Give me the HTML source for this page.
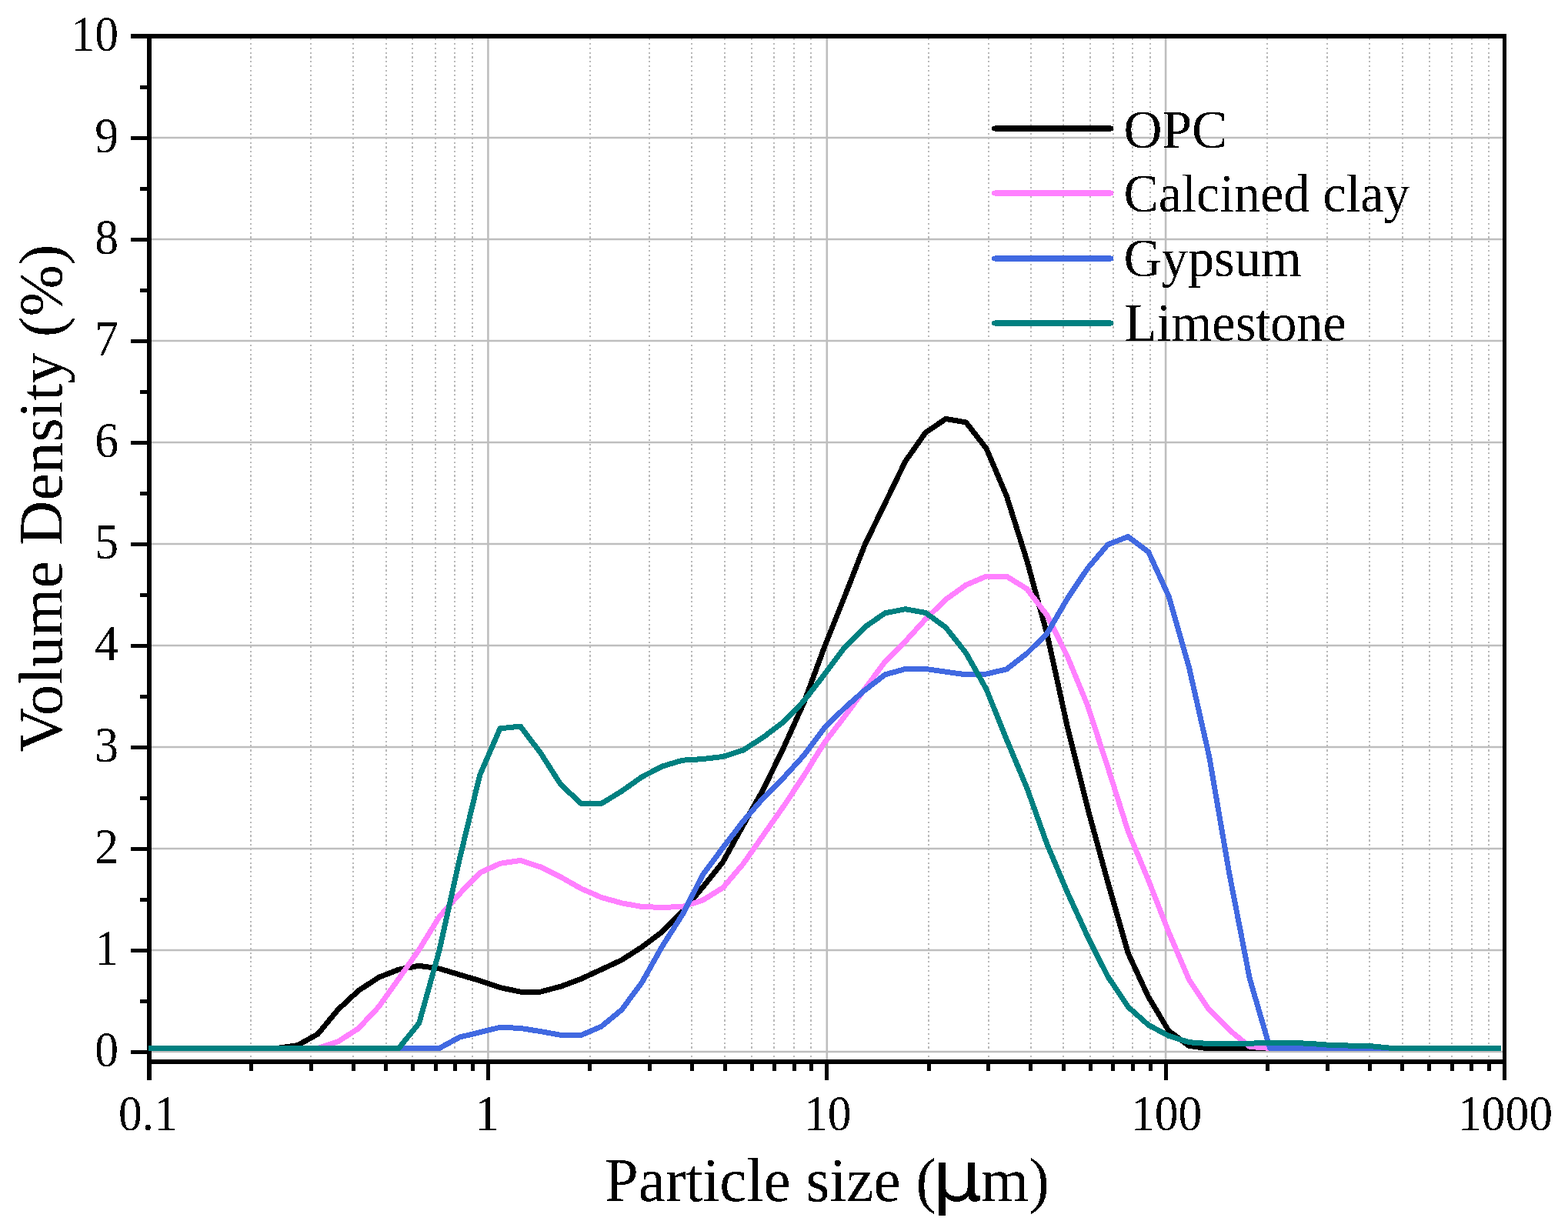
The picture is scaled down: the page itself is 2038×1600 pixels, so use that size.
<!DOCTYPE html>
<html><head><meta charset="utf-8"><style>
html,body{margin:0;padding:0;background:#fff;}
svg{display:block;}
line,rect{shape-rendering:crispEdges;}
text{font-family:"Liberation Serif","Times New Roman",serif;fill:#000;}
.Mg{stroke:#bebebe;stroke-width:2.6;shape-rendering:geometricPrecision;}
.mg{stroke:#b8b8b8;stroke-width:2;stroke-dasharray:2.2 3.65;}
.tk line{stroke:#000;stroke-width:5;}
.tk line.mt{stroke-width:5;}
.ser{fill:none;stroke-width:7;stroke-linejoin:round;stroke-linecap:butt;shape-rendering:crispEdges;}
.leg{stroke-width:7;stroke-linecap:round;shape-rendering:geometricPrecision;}
</style></head><body>
<svg width="2038" height="1600" viewBox="0 0 2038 1600">
<defs><filter id="bi" x="0" y="0" width="2038" height="1600" filterUnits="userSpaceOnUse"><feComponentTransfer><feFuncA type="discrete" tableValues="0 1"/></feComponentTransfer></filter></defs>
<rect width="2038" height="1600" fill="#fff"/>
<g><line x1="326" y1="50.0" x2="326" y2="1377.0" class="mg"/>
<line x1="404" y1="50.0" x2="404" y2="1377.0" class="mg"/>
<line x1="459" y1="50.0" x2="459" y2="1377.0" class="mg"/>
<line x1="502" y1="50.0" x2="502" y2="1377.0" class="mg"/>
<line x1="536" y1="50.0" x2="536" y2="1377.0" class="mg"/>
<line x1="566" y1="50.0" x2="566" y2="1377.0" class="mg"/>
<line x1="591" y1="50.0" x2="591" y2="1377.0" class="mg"/>
<line x1="614" y1="50.0" x2="614" y2="1377.0" class="mg"/>
<line x1="767" y1="50.0" x2="767" y2="1377.0" class="mg"/>
<line x1="844" y1="50.0" x2="844" y2="1377.0" class="mg"/>
<line x1="899" y1="50.0" x2="899" y2="1377.0" class="mg"/>
<line x1="942" y1="50.0" x2="942" y2="1377.0" class="mg"/>
<line x1="977" y1="50.0" x2="977" y2="1377.0" class="mg"/>
<line x1="1006" y1="50.0" x2="1006" y2="1377.0" class="mg"/>
<line x1="1032" y1="50.0" x2="1032" y2="1377.0" class="mg"/>
<line x1="1054" y1="50.0" x2="1054" y2="1377.0" class="mg"/>
<line x1="1207" y1="50.0" x2="1207" y2="1377.0" class="mg"/>
<line x1="1285" y1="50.0" x2="1285" y2="1377.0" class="mg"/>
<line x1="1340" y1="50.0" x2="1340" y2="1377.0" class="mg"/>
<line x1="1382" y1="50.0" x2="1382" y2="1377.0" class="mg"/>
<line x1="1417" y1="50.0" x2="1417" y2="1377.0" class="mg"/>
<line x1="1447" y1="50.0" x2="1447" y2="1377.0" class="mg"/>
<line x1="1472" y1="50.0" x2="1472" y2="1377.0" class="mg"/>
<line x1="1495" y1="50.0" x2="1495" y2="1377.0" class="mg"/>
<line x1="1647" y1="50.0" x2="1647" y2="1377.0" class="mg"/>
<line x1="1725" y1="50.0" x2="1725" y2="1377.0" class="mg"/>
<line x1="1780" y1="50.0" x2="1780" y2="1377.0" class="mg"/>
<line x1="1823" y1="50.0" x2="1823" y2="1377.0" class="mg"/>
<line x1="1858" y1="50.0" x2="1858" y2="1377.0" class="mg"/>
<line x1="1887" y1="50.0" x2="1887" y2="1377.0" class="mg"/>
<line x1="1913" y1="50.0" x2="1913" y2="1377.0" class="mg"/>
<line x1="1935" y1="50.0" x2="1935" y2="1377.0" class="mg"/>
<line x1="634.4" y1="47.0" x2="634.4" y2="1380.0" class="Mg"/>
<line x1="1074.8" y1="47.0" x2="1074.8" y2="1380.0" class="Mg"/>
<line x1="1515.1" y1="47.0" x2="1515.1" y2="1380.0" class="Mg"/>
<line x1="194.0" y1="1367.0" x2="1955.5" y2="1367.0" class="Mg"/>
<line x1="194.0" y1="1235.0" x2="1955.5" y2="1235.0" class="Mg"/>
<line x1="194.0" y1="1103.0" x2="1955.5" y2="1103.0" class="Mg"/>
<line x1="194.0" y1="971.0" x2="1955.5" y2="971.0" class="Mg"/>
<line x1="194.0" y1="839.0" x2="1955.5" y2="839.0" class="Mg"/>
<line x1="194.0" y1="707.0" x2="1955.5" y2="707.0" class="Mg"/>
<line x1="194.0" y1="575.0" x2="1955.5" y2="575.0" class="Mg"/>
<line x1="194.0" y1="443.0" x2="1955.5" y2="443.0" class="Mg"/>
<line x1="194.0" y1="311.0" x2="1955.5" y2="311.0" class="Mg"/>
<line x1="194.0" y1="179.0" x2="1955.5" y2="179.0" class="Mg"/></g>

<g class="tk"><line x1="170" y1="1367.0" x2="194.0" y2="1367.0"/>
<line x1="170" y1="1235.0" x2="194.0" y2="1235.0"/>
<line x1="170" y1="1103.0" x2="194.0" y2="1103.0"/>
<line x1="170" y1="971.0" x2="194.0" y2="971.0"/>
<line x1="170" y1="839.0" x2="194.0" y2="839.0"/>
<line x1="170" y1="707.0" x2="194.0" y2="707.0"/>
<line x1="170" y1="575.0" x2="194.0" y2="575.0"/>
<line x1="170" y1="443.0" x2="194.0" y2="443.0"/>
<line x1="170" y1="311.0" x2="194.0" y2="311.0"/>
<line x1="170" y1="179.0" x2="194.0" y2="179.0"/>
<line x1="182" y1="1301.0" x2="194.0" y2="1301.0"/>
<line x1="182" y1="1169.0" x2="194.0" y2="1169.0"/>
<line x1="182" y1="1037.0" x2="194.0" y2="1037.0"/>
<line x1="182" y1="905.0" x2="194.0" y2="905.0"/>
<line x1="182" y1="773.0" x2="194.0" y2="773.0"/>
<line x1="182" y1="641.0" x2="194.0" y2="641.0"/>
<line x1="182" y1="509.0" x2="194.0" y2="509.0"/>
<line x1="182" y1="377.0" x2="194.0" y2="377.0"/>
<line x1="182" y1="245.0" x2="194.0" y2="245.0"/>
<line x1="182" y1="113.0" x2="194.0" y2="113.0"/>
<line x1="634.4" y1="1380.0" x2="634.4" y2="1404"/>
<line x1="1074.8" y1="1380.0" x2="1074.8" y2="1404"/>
<line x1="1515.1" y1="1380.0" x2="1515.1" y2="1404"/>
<line x1="326.6" y1="1380.0" x2="326.6" y2="1392" class="mt"/>
<line x1="404.1" y1="1380.0" x2="404.1" y2="1392" class="mt"/>
<line x1="459.1" y1="1380.0" x2="459.1" y2="1392" class="mt"/>
<line x1="501.8" y1="1380.0" x2="501.8" y2="1392" class="mt"/>
<line x1="536.7" y1="1380.0" x2="536.7" y2="1392" class="mt"/>
<line x1="566.2" y1="1380.0" x2="566.2" y2="1392" class="mt"/>
<line x1="591.7" y1="1380.0" x2="591.7" y2="1392" class="mt"/>
<line x1="614.2" y1="1380.0" x2="614.2" y2="1392" class="mt"/>
<line x1="766.9" y1="1380.0" x2="766.9" y2="1392" class="mt"/>
<line x1="844.5" y1="1380.0" x2="844.5" y2="1392" class="mt"/>
<line x1="899.5" y1="1380.0" x2="899.5" y2="1392" class="mt"/>
<line x1="942.2" y1="1380.0" x2="942.2" y2="1392" class="mt"/>
<line x1="977.1" y1="1380.0" x2="977.1" y2="1392" class="mt"/>
<line x1="1006.5" y1="1380.0" x2="1006.5" y2="1392" class="mt"/>
<line x1="1032.1" y1="1380.0" x2="1032.1" y2="1392" class="mt"/>
<line x1="1054.6" y1="1380.0" x2="1054.6" y2="1392" class="mt"/>
<line x1="1207.3" y1="1380.0" x2="1207.3" y2="1392" class="mt"/>
<line x1="1284.9" y1="1380.0" x2="1284.9" y2="1392" class="mt"/>
<line x1="1339.9" y1="1380.0" x2="1339.9" y2="1392" class="mt"/>
<line x1="1382.6" y1="1380.0" x2="1382.6" y2="1392" class="mt"/>
<line x1="1417.4" y1="1380.0" x2="1417.4" y2="1392" class="mt"/>
<line x1="1446.9" y1="1380.0" x2="1446.9" y2="1392" class="mt"/>
<line x1="1472.4" y1="1380.0" x2="1472.4" y2="1392" class="mt"/>
<line x1="1495.0" y1="1380.0" x2="1495.0" y2="1392" class="mt"/>
<line x1="1647.7" y1="1380.0" x2="1647.7" y2="1392" class="mt"/>
<line x1="1725.2" y1="1380.0" x2="1725.2" y2="1392" class="mt"/>
<line x1="1780.3" y1="1380.0" x2="1780.3" y2="1392" class="mt"/>
<line x1="1822.9" y1="1380.0" x2="1822.9" y2="1392" class="mt"/>
<line x1="1857.8" y1="1380.0" x2="1857.8" y2="1392" class="mt"/>
<line x1="1887.3" y1="1380.0" x2="1887.3" y2="1392" class="mt"/>
<line x1="1912.8" y1="1380.0" x2="1912.8" y2="1392" class="mt"/>
<line x1="1935.3" y1="1380.0" x2="1935.3" y2="1392" class="mt"/></g>
<g stroke="#000">
<line x1="194" y1="44" x2="194" y2="1404" stroke-width="6"/>
<line x1="1955.5" y1="44" x2="1955.5" y2="1404" stroke-width="4.6"/>
<line x1="170" y1="47" x2="1958" y2="47" stroke-width="6"/>
<line x1="191" y1="1380" x2="1958" y2="1380" stroke-width="5.6"/>
</g>
<g>
<path class="ser" stroke="#000000" d="M193.0,1362.4 L202.4,1362.4 L228.8,1362.4 L255.1,1362.4 L281.4,1362.4 L307.8,1362.4 L334.1,1362.4 L360.4,1362.4 L386.8,1358.7 L413.1,1344.0 L439.4,1312.2 L465.7,1287.8 L492.1,1270.4 L518.4,1260.1 L544.7,1255.3 L571.1,1259.0 L597.4,1266.9 L623.7,1274.6 L650.0,1283.6 L676.4,1289.1 L702.7,1289.1 L729.0,1282.1 L755.4,1272.2 L781.7,1260.1 L808.0,1247.8 L834.4,1230.9 L860.7,1211.2 L887.0,1184.8 L913.3,1153.2 L939.7,1120.2 L966.0,1072.5 L992.3,1025.6 L1018.7,971.3 L1045.0,912.9 L1071.3,841.6 L1097.7,775.6 L1124.0,708.3 L1150.3,654.2 L1176.7,599.7 L1203.0,562.2 L1229.3,544.4 L1255.6,549.0 L1282.0,582.9 L1308.3,644.7 L1334.6,728.1 L1361.0,824.5 L1387.3,944.6 L1413.6,1050.2 L1439.9,1146.6 L1466.3,1239.0 L1492.6,1295.7 L1518.9,1339.7 L1545.3,1359.3 L1571.6,1363.0 L1597.9,1362.4 L1624.3,1362.4 L1650.6,1362.4 L1676.9,1362.4 L1703.2,1362.4 L1729.6,1362.4 L1755.9,1362.4 L1782.2,1362.4 L1808.6,1362.4 L1834.9,1362.4 L1861.2,1362.4 L1887.6,1362.4 L1913.9,1362.4 L1940.2,1362.4 L1951.0,1362.4"/>
<path class="ser" stroke="#ff80ff" d="M193.0,1362.4 L202.4,1362.4 L228.8,1362.4 L255.1,1362.4 L281.4,1362.4 L307.8,1362.4 L334.1,1362.4 L360.4,1362.4 L386.8,1362.4 L413.1,1362.4 L439.4,1353.8 L465.7,1336.9 L492.1,1308.8 L518.4,1272.0 L544.7,1234.3 L571.1,1191.4 L597.4,1161.7 L623.7,1134.4 L650.0,1122.3 L676.4,1118.4 L702.7,1126.9 L729.0,1140.0 L755.4,1155.0 L781.7,1166.4 L808.0,1173.8 L834.4,1178.5 L860.7,1179.4 L887.0,1178.5 L913.3,1170.1 L939.7,1153.8 L966.0,1122.8 L992.3,1085.2 L1018.7,1047.6 L1045.0,1008.0 L1071.3,965.7 L1097.7,931.4 L1124.0,895.6 L1150.3,860.0 L1176.7,833.7 L1203.0,804.7 L1229.3,779.2 L1255.6,760.3 L1282.0,749.0 L1308.3,749.2 L1334.6,765.3 L1361.0,799.9 L1387.3,853.1 L1413.6,916.9 L1439.9,997.4 L1466.3,1080.6 L1492.6,1143.9 L1518.9,1211.2 L1545.3,1273.1 L1571.6,1312.5 L1597.9,1338.8 L1624.3,1360.4 L1650.6,1362.4 L1676.9,1362.4 L1703.2,1362.4 L1729.6,1362.4 L1755.9,1362.4 L1782.2,1362.4 L1808.6,1362.4 L1834.9,1362.4 L1861.2,1362.4 L1887.6,1362.4 L1913.9,1362.4 L1940.2,1362.4 L1951.0,1362.4"/>
<path class="ser" stroke="#4169e1" d="M193.0,1362.4 L202.4,1362.4 L228.8,1362.4 L255.1,1362.4 L281.4,1362.4 L307.8,1362.4 L334.1,1362.4 L360.4,1362.4 L386.8,1362.4 L413.1,1362.4 L439.4,1362.4 L465.7,1362.4 L492.1,1362.4 L518.4,1362.4 L544.7,1362.4 L571.1,1362.4 L597.4,1348.1 L623.7,1341.7 L650.0,1335.3 L676.4,1336.4 L702.7,1340.6 L729.0,1345.4 L755.4,1345.4 L781.7,1334.1 L808.0,1312.5 L834.4,1276.8 L860.7,1230.0 L887.0,1188.8 L913.3,1137.3 L939.7,1101.7 L966.0,1067.4 L992.3,1037.0 L1018.7,1010.6 L1045.0,981.6 L1071.3,946.6 L1097.7,920.3 L1124.0,897.1 L1150.3,876.9 L1176.7,869.4 L1203.0,869.4 L1229.3,873.2 L1255.6,876.9 L1282.0,876.0 L1308.3,869.8 L1334.6,849.4 L1361.0,823.2 L1387.3,778.1 L1413.6,738.7 L1439.9,707.8 L1466.3,697.5 L1492.6,717.2 L1518.9,774.6 L1545.3,866.7 L1571.6,982.9 L1597.9,1136.0 L1624.3,1272.0 L1650.6,1362.4 L1676.9,1362.4 L1703.2,1362.4 L1729.6,1362.4 L1755.9,1362.4 L1782.2,1362.4 L1808.6,1362.4 L1834.9,1362.4 L1861.2,1362.4 L1887.6,1362.4 L1913.9,1362.4 L1940.2,1362.4 L1951.0,1362.4"/>
<path class="ser" stroke="#008080" d="M193.0,1362.4 L202.4,1362.4 L228.8,1362.4 L255.1,1362.4 L281.4,1362.4 L307.8,1362.4 L334.1,1362.4 L360.4,1362.4 L386.8,1362.4 L413.1,1362.4 L439.4,1362.4 L465.7,1362.4 L492.1,1362.4 L518.4,1362.4 L544.7,1329.8 L571.1,1235.0 L597.4,1116.2 L623.7,1007.3 L650.0,946.8 L676.4,944.1 L702.7,978.8 L729.0,1020.0 L755.4,1044.4 L781.7,1044.4 L808.0,1028.4 L834.4,1009.7 L860.7,996.1 L887.0,988.2 L913.3,986.6 L939.7,983.4 L966.0,975.0 L992.3,958.1 L1018.7,938.0 L1045.0,910.9 L1071.3,876.9 L1097.7,841.4 L1124.0,815.1 L1150.3,796.9 L1176.7,791.7 L1203.0,796.4 L1229.3,815.6 L1255.6,848.8 L1282.0,895.8 L1308.3,961.1 L1334.6,1023.8 L1361.0,1097.5 L1387.3,1159.8 L1413.6,1217.2 L1439.9,1269.3 L1466.3,1308.8 L1492.6,1332.2 L1518.9,1346.3 L1545.3,1354.7 L1571.6,1356.6 L1597.9,1356.6 L1624.3,1356.2 L1650.6,1355.3 L1676.9,1355.3 L1703.2,1356.4 L1729.6,1358.4 L1755.9,1359.1 L1782.2,1359.7 L1808.6,1362.4 L1834.9,1362.4 L1861.2,1362.4 L1887.6,1362.4 L1913.9,1362.4 L1940.2,1362.4 L1951.0,1362.4"/>
</g>
<g filter="url(#bi)">
<g font-size="65.5"><text transform="translate(154,1386.0) scale(0.94,1)" text-anchor="end">0</text>
<text transform="translate(154,1254.0) scale(0.94,1)" text-anchor="end">1</text>
<text transform="translate(154,1122.0) scale(0.94,1)" text-anchor="end">2</text>
<text transform="translate(154,990.0) scale(0.94,1)" text-anchor="end">3</text>
<text transform="translate(154,858.0) scale(0.94,1)" text-anchor="end">4</text>
<text transform="translate(154,726.0) scale(0.94,1)" text-anchor="end">5</text>
<text transform="translate(154,594.0) scale(0.94,1)" text-anchor="end">6</text>
<text transform="translate(154,462.0) scale(0.94,1)" text-anchor="end">7</text>
<text transform="translate(154,330.0) scale(0.94,1)" text-anchor="end">8</text>
<text transform="translate(154,198.0) scale(0.94,1)" text-anchor="end">9</text>
<text transform="translate(154,66.0) scale(0.94,1)" text-anchor="end">10</text>
<text transform="translate(192.5,1468.5) scale(0.94,1)" text-anchor="middle">0.1</text>
<text transform="translate(633.1,1468.5) scale(0.94,1)" text-anchor="middle">1</text>
<text transform="translate(1075.8,1468.5) scale(0.94,1)" text-anchor="middle">10</text>
<text transform="translate(1516.1,1468.5) scale(0.94,1)" text-anchor="middle">100</text>
<text transform="translate(1956.5,1468.5) scale(0.94,1)" text-anchor="middle">1000</text></g>
<g>
<line class="leg" x1="1292.5" y1="167" x2="1444" y2="167" stroke="#000000"/>
<line class="leg" x1="1292.5" y1="251" x2="1444" y2="251" stroke="#ff80ff"/>
<line class="leg" x1="1292.5" y1="336" x2="1444" y2="336" stroke="#4169e1"/>
<line class="leg" x1="1292.5" y1="420" x2="1444" y2="420" stroke="#008080"/>
<g font-size="69">
<text transform="translate(1460.5,191.5) scale(1.005,1)">OPC</text>
<text transform="translate(1460.5,275) scale(0.986,1)">Calcined clay</text>
<text transform="translate(1460.5,358.5) scale(0.99,1)">Gypsum</text>
<text transform="translate(1461.5,443) scale(0.99,1)">Limestone</text>
</g>
</g>
<g font-size="80"><text transform="translate(785.8,1561) scale(0.99,1)">Particle size (</text><text transform="translate(1211,1561) scale(1.14,1)" font-family="DejaVu Sans" font-size="91" style="font-family:'DejaVu Sans',sans-serif">μ</text><text x="1275" y="1561">m)</text></g>
<text transform="translate(80.5,977.8) rotate(-90)" font-size="80.5">Volume Density (%)</text>
</g>
</svg>
</body></html>
